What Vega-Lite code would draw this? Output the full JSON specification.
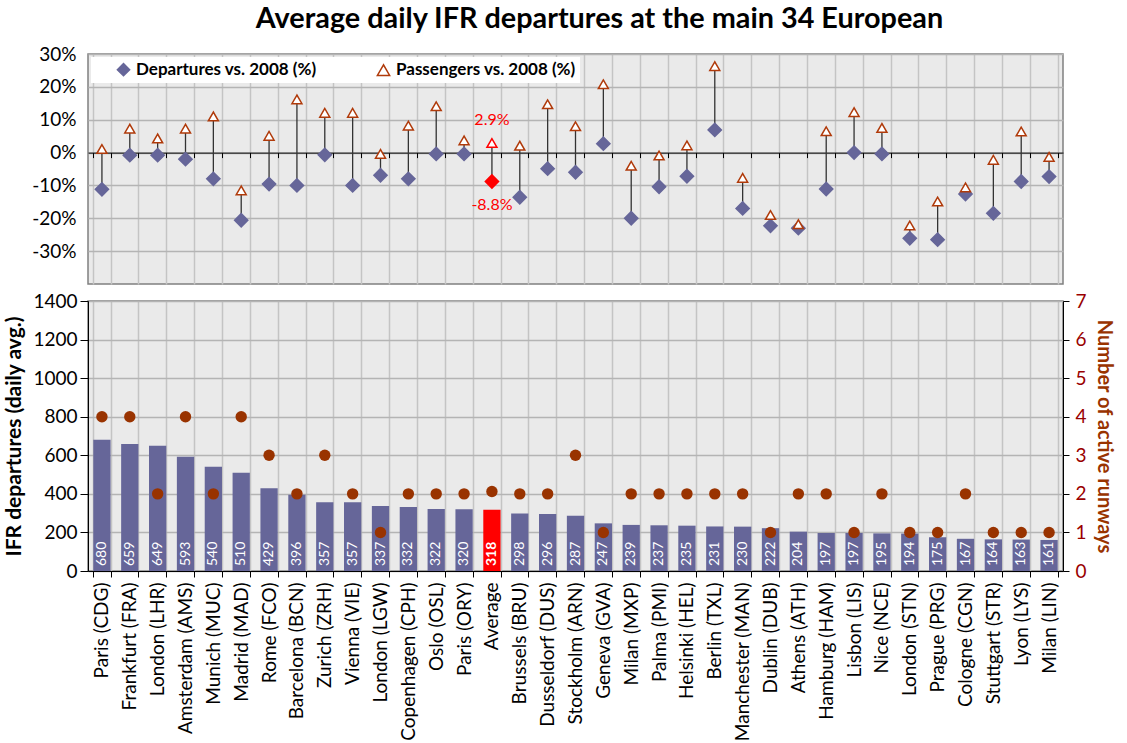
{
  "$schema": "https://vega.github.io/schema/vega-lite/v6.json",
  "padding": {"left": 3, "top": 5, "right": 2, "bottom": 0},
  "title": {"text": "Average daily IFR departures at the main 34 European", "fontSize": 28.8, "fontWeight": "bold", "font": "Lato", "anchor": "middle", "dx": 41, "offset": 10, "color": "black"},
  "spacing": 6,
  "datasets": {
    "airports": [
      {"a": "Paris (CDG)", "dep": 680, "rw": 4, "d": -0.112, "p": 0.011},
      {"a": "Frankfurt (FRA)", "dep": 659, "rw": 4, "d": -0.008, "p": 0.073},
      {"a": "London (LHR)", "dep": 649, "rw": 2, "d": -0.008, "p": 0.043},
      {"a": "Amsterdam (AMS)", "dep": 593, "rw": 4, "d": -0.02, "p": 0.073},
      {"a": "Munich (MUC)", "dep": 540, "rw": 2, "d": -0.08, "p": 0.11},
      {"a": "Madrid (MAD)", "dep": 510, "rw": 4, "d": -0.206, "p": -0.115},
      {"a": "Rome (FCO)", "dep": 429, "rw": 3, "d": -0.096, "p": 0.051},
      {"a": "Barcelona (BCN)", "dep": 396, "rw": 2, "d": -0.1, "p": 0.162},
      {"a": "Zurich (ZRH)", "dep": 357, "rw": 3, "d": -0.007, "p": 0.121},
      {"a": "Vienna (VIE)", "dep": 357, "rw": 2, "d": -0.1, "p": 0.121},
      {"a": "London (LGW)", "dep": 337, "rw": 1, "d": -0.069, "p": -0.004},
      {"a": "Copenhagen (CPH)", "dep": 332, "rw": 2, "d": -0.08, "p": 0.082},
      {"a": "Oslo (OSL)", "dep": 322, "rw": 2, "d": -0.004, "p": 0.141},
      {"a": "Paris (ORY)", "dep": 320, "rw": 2, "d": -0.004, "p": 0.037},
      {"a": "Average", "dep": 318, "rw": 2.06, "d": -0.088, "p": 0.029},
      {"a": "Brussels (BRU)", "dep": 298, "rw": 2, "d": -0.136, "p": 0.021},
      {"a": "Dusseldorf (DUS)", "dep": 296, "rw": 2, "d": -0.049, "p": 0.147},
      {"a": "Stockholm (ARN)", "dep": 287, "rw": 3, "d": -0.06, "p": 0.08},
      {"a": "Geneva (GVA)", "dep": 247, "rw": 1, "d": 0.027, "p": 0.208},
      {"a": "Milan (MXP)", "dep": 239, "rw": 2, "d": -0.2, "p": -0.04},
      {"a": "Palma (PMI)", "dep": 237, "rw": 2, "d": -0.104, "p": -0.009},
      {"a": "Helsinki (HEL)", "dep": 235, "rw": 2, "d": -0.072, "p": 0.022},
      {"a": "Berlin (TXL)", "dep": 231, "rw": 2, "d": 0.069, "p": 0.263},
      {"a": "Manchester (MAN)", "dep": 230, "rw": 2, "d": -0.17, "p": -0.077},
      {"a": "Dublin (DUB)", "dep": 222, "rw": 1, "d": -0.223, "p": -0.19},
      {"a": "Athens (ATH)", "dep": 204, "rw": 2, "d": -0.23, "p": -0.218},
      {"a": "Hamburg (HAM)", "dep": 197, "rw": 2, "d": -0.111, "p": 0.065},
      {"a": "Lisbon (LIS)", "dep": 197, "rw": 1, "d": 0.0, "p": 0.123},
      {"a": "Nice (NCE)", "dep": 195, "rw": 2, "d": -0.004, "p": 0.075},
      {"a": "London (STN)", "dep": 194, "rw": 1, "d": -0.261, "p": -0.222},
      {"a": "Prague (PRG)", "dep": 175, "rw": 1, "d": -0.265, "p": -0.149},
      {"a": "Cologne (CGN)", "dep": 167, "rw": 2, "d": -0.126, "p": -0.106},
      {"a": "Stuttgart (STR)", "dep": 164, "rw": 1, "d": -0.185, "p": -0.022},
      {"a": "Lyon (LYS)", "dep": 163, "rw": 1, "d": -0.088, "p": 0.064},
      {"a": "Milan (LIN)", "dep": 161, "rw": 1, "d": -0.073, "p": -0.013}
    ]
  },
  "vconcat": [
    {
      "width": 975,
      "height": 230,
      "data": {"name": "airports"},
      "layer": [
        {
          "mark": {"type": "rule", "color": "#333333", "strokeWidth": 1.3},
          "encoding": {
            "x": {"field": "a", "type": "nominal", "sort": null, "scale": {"paddingInner": 0.38, "paddingOuter": 0.19},
                  "axis": {"orient": "bottom", "grid": true, "gridColor": "#c4c4c4", "gridWidth": 1.5, "tickBand": "extent", "labels": false, "ticks": false, "domain": false, "title": null}},
            "y": {"field": "d", "type": "quantitative", "scale": {"domain": [-0.4, 0.3], "nice": false, "zero": false},
                  "axis": {"values": [-0.3, -0.2, -0.1, 0, 0.1, 0.2, 0.3], "format": ".0%", "ticks": false, "domain": false, "labelPadding": 12, "labelOverlap": false, "labelFontSize": 19, "title": null, "gridColor": "#b4b4b4", "gridWidth": 1.5}},
            "y2": {"field": "p"}
          }
        },
        {
          "transform": [{"filter": "datum.a !== 'Average'"}, {"fold": ["d", "p"], "as": ["series", "val"]}],
          "mark": {"type": "point", "filled": true, "strokeWidth": 1.5, "opacity": 1},
          "encoding": {
            "x": {"field": "a", "type": "nominal", "sort": null,
                  "axis": {"orient": "bottom", "offset": -131.4, "grid": false, "labels": false, "ticks": true, "tickSize": 5, "tickColor": "black", "domainColor": "black", "tickBand": "extent", "title": null}},
            "y": {"field": "val", "type": "quantitative", "axis": {"values": [-0.3, -0.2, -0.1, 0, 0.1, 0.2, 0.3], "format": ".0%", "ticks": false, "domain": false, "labelPadding": 12, "labelOverlap": false, "labelFontSize": 19, "title": null, "gridColor": "#b4b4b4", "gridWidth": 1.5}},
            "shape": {"field": "series", "type": "nominal", "scale": {"domain": ["d", "p"], "range": ["diamond", "triangle-up"]},
                      "legend": {"title": null, "orient": "top-left", "offset": 3, "direction": "horizontal", "fillColor": "white", "padding": 4, "columnPadding": 38, "labelLimit": 400, "symbolSize": 150, "symbolStrokeWidth": 1.5, "labelFontSize": 17, "labelFontWeight": "bold", "labelColor": "black", "symbolOffset": 20,
                                 "labelExpr": "datum.label === 'd' ? 'Departures vs. 2008 (%)' : 'Passengers vs. 2008 (%)'"}},
            "fill": {"field": "series", "type": "nominal", "scale": {"domain": ["d", "p"], "range": ["#666699", "#ffffff"]},
                     "legend": {"title": null, "orient": "top-left", "offset": 3, "direction": "horizontal", "fillColor": "white", "padding": 4, "columnPadding": 38, "labelLimit": 400, "symbolSize": 150, "symbolStrokeWidth": 1.5, "labelFontSize": 17, "labelFontWeight": "bold", "labelColor": "black", "symbolOffset": 20,
                                "labelExpr": "datum.label === 'd' ? 'Departures vs. 2008 (%)' : 'Passengers vs. 2008 (%)'"}},
            "stroke": {"field": "series", "type": "nominal", "scale": {"domain": ["d", "p"], "range": ["#666699", "#b03a0a"]},
                       "legend": {"title": null, "orient": "top-left", "offset": 3, "direction": "horizontal", "fillColor": "white", "padding": 4, "columnPadding": 38, "labelLimit": 400, "symbolSize": 150, "symbolStrokeWidth": 1.5, "labelFontSize": 17, "labelFontWeight": "bold", "labelColor": "black", "symbolOffset": 20,
                                  "labelExpr": "datum.label === 'd' ? 'Departures vs. 2008 (%)' : 'Passengers vs. 2008 (%)'"}},
            "size": {"condition": {"test": "datum.series === 'd'", "value": 175}, "value": 100}
          }
        },
        {
          "transform": [{"filter": "datum.a === 'Average'"}, {"fold": ["d", "p"], "as": ["series", "val"]}],
          "mark": {"type": "point", "filled": true, "strokeWidth": 1.5, "opacity": 1, "stroke": "#ff0000"},
          "encoding": {
            "x": {"field": "a", "type": "nominal", "sort": null, "axis": null},
            "y": {"field": "val", "type": "quantitative", "axis": {"values": [-0.3, -0.2, -0.1, 0, 0.1, 0.2, 0.3], "format": ".0%", "ticks": false, "domain": false, "labelPadding": 12, "labelOverlap": false, "labelFontSize": 19, "title": null, "gridColor": "#b4b4b4", "gridWidth": 1.5}},
            "shape": {"condition": {"test": "datum.series === 'd'", "value": "diamond"}, "value": "triangle-up"},
            "fill": {"condition": {"test": "datum.series === 'd'", "value": "#ff0000"}, "value": "#ffffff"},
            "size": {"condition": {"test": "datum.series === 'd'", "value": 175}, "value": 100}
          }
        },
        {
          "transform": [{"filter": "datum.a === 'Average'"}],
          "mark": {"type": "text", "color": "#ff0000", "fontSize": 16, "dy": -23},
          "encoding": {
            "x": {"field": "a", "type": "nominal", "sort": null, "axis": null},
            "y": {"field": "p", "type": "quantitative", "axis": {"values": [-0.3, -0.2, -0.1, 0, 0.1, 0.2, 0.3], "format": ".0%", "ticks": false, "domain": false, "labelPadding": 12, "labelOverlap": false, "labelFontSize": 19, "title": null, "gridColor": "#b4b4b4", "gridWidth": 1.5}},
            "text": {"field": "p", "type": "quantitative", "format": ".1%"}
          }
        },
        {
          "transform": [{"filter": "datum.a === 'Average'"}],
          "mark": {"type": "text", "color": "#ff0000", "fontSize": 16, "dy": 24},
          "encoding": {
            "x": {"field": "a", "type": "nominal", "sort": null, "axis": null},
            "y": {"field": "d", "type": "quantitative", "axis": {"values": [-0.3, -0.2, -0.1, 0, 0.1, 0.2, 0.3], "format": ".0%", "ticks": false, "domain": false, "labelPadding": 12, "labelOverlap": false, "labelFontSize": 19, "title": null, "gridColor": "#b4b4b4", "gridWidth": 1.5}},
            "text": {"field": "d", "type": "quantitative", "format": ".1%"}
          }
        }
      ],
      "resolve": {"axis": {"x": "independent"}}
    },
    {
      "width": 975,
      "height": 270,
      "data": {"name": "airports"},
      "layer": [
        {
          "layer": [
            {
              "mark": {"type": "bar"},
              "encoding": {
                "x": {"field": "a", "type": "nominal", "sort": null, "scale": {"paddingInner": 0.38, "paddingOuter": 0.19},
                      "axis": {"labelAngle": -90, "labelFontSize": 19, "labelPadding": 5, "labelLimit": 300, "tickSize": 6, "tickBand": "extent", "grid": true, "gridColor": "#c4c4c4", "gridWidth": 1.5, "labelColor": "black",
                               "title": "Source: EUROCONTROL PRU; ACI", "titleFontWeight": "normal", "titleFontSize": 16, "titleAnchor": "start", "titleAlign": "left", "titleBaseline": "top", "titleX": -72, "titleY": 171}},
                "y": {"field": "dep", "type": "quantitative", "scale": {"domain": [0, 1400], "nice": false},
                      "axis": {"values": [0, 200, 400, 600, 800, 1000, 1200, 1400], "format": "d", "labelOverlap": false, "title": "IFR departures (daily avg.)", "titleFontSize": 21, "labelFontSize": 19, "tickSize": 8, "labelPadding": 3, "titlePadding": 8, "gridColor": "#b4b4b4", "gridWidth": 1.5}},
                "color": {"condition": {"test": "datum.a === 'Average'", "value": "#ff0000"}, "value": "#666699"}
              }
            },
            {
              "transform": [{"filter": "datum.a !== 'Average'"}],
              "mark": {"type": "text", "angle": 270, "align": "left", "baseline": "middle", "dx": 5, "color": "white", "fontSize": 14},
              "encoding": {
                "x": {"field": "a", "type": "nominal", "sort": null},
                "y": {"datum": 0, "type": "quantitative",
                      "axis": {"values": [0, 200, 400, 600, 800, 1000, 1200, 1400], "format": "d", "labelOverlap": false, "title": "IFR departures (daily avg.)", "titleFontSize": 21, "labelFontSize": 19, "tickSize": 8, "labelPadding": 3, "titlePadding": 8, "gridColor": "#b4b4b4", "gridWidth": 1.5}},
                "text": {"field": "dep", "type": "quantitative"}
              }
            },
            {
              "transform": [{"filter": "datum.a === 'Average'"}],
              "mark": {"type": "text", "angle": 270, "align": "left", "baseline": "middle", "dx": 5, "color": "white", "fontSize": 14, "fontWeight": "bold"},
              "encoding": {
                "x": {"field": "a", "type": "nominal", "sort": null},
                "y": {"datum": 0, "type": "quantitative",
                      "axis": {"values": [0, 200, 400, 600, 800, 1000, 1200, 1400], "format": "d", "labelOverlap": false, "title": "IFR departures (daily avg.)", "titleFontSize": 21, "labelFontSize": 19, "tickSize": 8, "labelPadding": 3, "titlePadding": 8, "gridColor": "#b4b4b4", "gridWidth": 1.5}},
                "text": {"field": "dep", "type": "quantitative"}
              }
            }
          ]
        },
        {
          "mark": {"type": "circle", "color": "#993300", "size": 130, "opacity": 1},
          "encoding": {
            "x": {"field": "a", "type": "nominal", "sort": null},
            "y": {"field": "rw", "type": "quantitative", "scale": {"domain": [0, 7], "nice": false},
                  "axis": {"orient": "right", "values": [0, 1, 2, 3, 4, 5, 6, 7], "labelOverlap": false, "grid": false, "title": "Number of active runways", "titleFontSize": 20, "labelFontSize": 19, "titleColor": "#993300", "labelColor": "#990000", "tickSize": 6, "labelPadding": 6, "titlePadding": 7}}
          }
        }
      ],
      "resolve": {"scale": {"y": "independent"}}
    }
  ],
  "config": {
    "font": "Lato",
    "locale": {"number": {"decimal": ".", "thousands": ",", "grouping": [3], "currency": ["$", ""], "minus": "-"}},
    "view": {"fill": "#eaeaea", "stroke": "#808080", "strokeWidth": 1.5},
    "axis": {"labelFont": "Lato", "titleFont": "Lato", "labelFontSize": 17, "labelColor": "black", "titleFontSize": 17, "titleFontWeight": "bold", "titleColor": "black", "domainColor": "black", "tickColor": "black"},
    "legend": {"labelFont": "Lato"}
  }
}
